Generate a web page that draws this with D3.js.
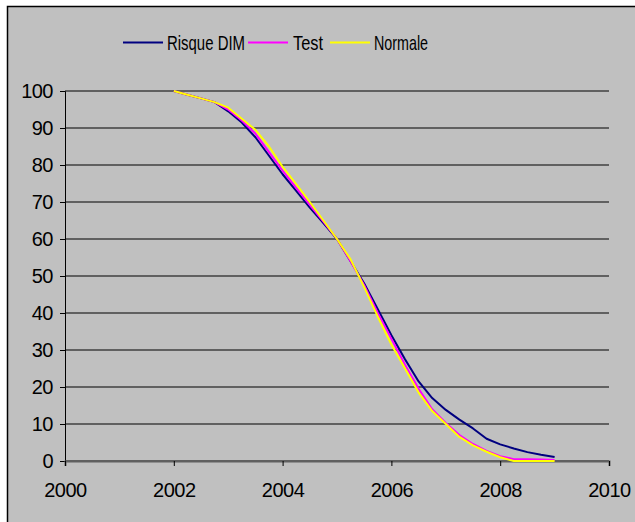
<!DOCTYPE html>
<html>
<head>
<meta charset="utf-8">
<script src="https://cdn.jsdelivr.net/npm/d3@7"></script>
<style>
  html, body { margin: 0; padding: 0; background: #fff; }
  svg { display: block; font-family: "Liberation Sans", Arial, sans-serif; }
</style>
</head>
<body>
<svg id="chart" width="635" height="522"></svg>
<script>
/* survival-style curves, Excel look – quarterly points 2002..2009 */

const years = [2002, 2002.25, 2002.5, 2002.75, 2003, 2003.25, 2003.5, 2003.75,
               2004, 2004.25, 2004.5, 2004.75, 2005, 2005.25, 2005.5, 2005.75,
               2006, 2006.25, 2006.5, 2006.75, 2007, 2007.25, 2007.5, 2007.75,
               2008, 2008.25, 2008.5, 2008.75, 2009];

const risqueDIM = [100, 99, 98, 97, 94.5, 91.5, 87.5, 82.5,
                   77.5, 73, 68.5, 64.3, 60, 54, 48, 41,
                   34, 27.5, 21.5, 17, 13.8, 11.2, 8.8, 6,
                   4.5, 3.4, 2.4, 1.7, 1.1];

const test = [100, 99, 98, 97, 95, 92, 88.5, 83.5,
              78.5, 73.8, 69.2, 64.7, 60, 54, 47.5, 40,
              33, 26, 19.5, 14, 10.3, 7, 4.6, 2.7,
              1.3, 0.5, 0.5, 0.4, 0.3];

const normale = [100, 99, 98, 97, 95.5, 92.5, 89.5, 85,
                 79.5, 74.8, 70, 65, 60, 54.5, 47, 39,
                 31.5, 25, 18.5, 13.5, 10, 6.5, 4.2, 2.5,
                 1, 0, 0, 0, 0];

const seriesNames  = ["Risque DIM", "Test", "Normale"];
const seriesColors = ["#000080", "#ff00ff", "#ffff00"];
const xTicks = [2000, 2002, 2004, 2006, 2008, 2010];
const yTicks = [0, 10, 20, 30, 40, 50, 60, 70, 80, 90, 100];

const svg = d3.select("#chart");

/* -- Frame -------------------------------------------------------------- */
svg.append("rect")
  .attr("x", 7.5).attr("y", 6.5)
  .attr("width", 640).attr("height", 530)
  .attr("fill", "#c0c0c0")
  .attr("stroke", "#000").attr("stroke-width", 1.5);

/* -- Scales ------------------------------------------------------------- */
const x = d3.scaleLinear().domain([2000, 2010]).range([65, 609]);
const y = d3.scaleLinear().domain([0, 100]).range([461, 91]);

/* -- Gridlines ---------------------------------------------------------- */
svg.append("g")
  .selectAll("line")
  .data(yTicks)
  .enter().append("line")
    .attr("x1", x(2000)).attr("x2", x(2010))
    .attr("y1", d => y(d)).attr("y2", d => y(d))
    .attr("stroke", "#606060").attr("stroke-width", 2);

/* -- Axes --------------------------------------------------------------- */
const yAxis = svg.append("g")
  .attr("transform", `translate(${x(2000)},0)`)
  .call(d3.axisLeft(y).tickValues(yTicks).tickSize(5).tickPadding(7));

const xAxis = svg.append("g")
  .attr("transform", `translate(0,${y(0)})`)
  .call(d3.axisBottom(x).tickValues(xTicks).tickFormat(d3.format("d"))
          .tickSize(5).tickPadding(17));

[yAxis, xAxis].forEach(g => {
  g.select(".domain").attr("stroke", "#000").attr("stroke-width", 1);
  g.selectAll(".tick line").attr("stroke", "#000");
  g.selectAll("text")
    .attr("fill", "#000")
    .attr("font-size", 20)
    .attr("font-family", "Liberation Sans, Arial, sans-serif")
    .attr("letter-spacing", -0.5);
});
xAxis.select(".domain").attr("stroke", "#606060").attr("stroke-width", 2);

/* -- Lines -------------------------------------------------------------- */
const line = d3.line()
  .x((d, i) => x(years[i]))
  .y(d => y(d));

[risqueDIM, test, normale].forEach((vals, k) => {
  svg.append("path")
    .datum(vals)
    .attr("fill", "none")
    .attr("stroke", seriesColors[k])
    .attr("stroke-width", 2)
    .attr("stroke-linejoin", "round")
    .attr("d", line);
});

/* -- Legend ------------------------------------------------------------- */
const legendItems = [
  { line: 123, text: 167, width: 78 },
  { line: 248, text: 293, width: 30 },
  { line: 330, text: 374, width: 54 }
];

const legend = svg.append("g");
legendItems.forEach((it, k) => {
  legend.append("line")
    .attr("x1", it.line).attr("x2", it.line + 40)
    .attr("y1", 42.5).attr("y2", 42.5)
    .attr("stroke", seriesColors[k]).attr("stroke-width", 2);
  legend.append("text")
    .attr("x", it.text).attr("y", 49.5)
    .attr("font-size", 21)
    .attr("textLength", it.width)
    .attr("lengthAdjust", "spacingAndGlyphs")
    .text(seriesNames[k]);
});
</script>
</body>
</html>
